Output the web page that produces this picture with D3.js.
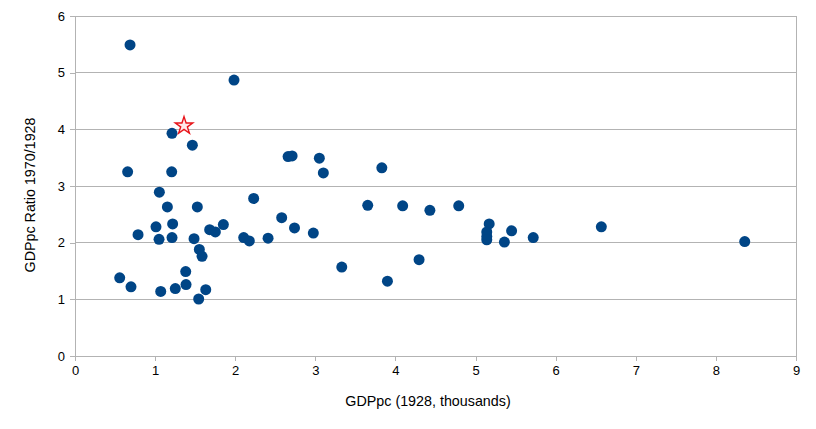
<!DOCTYPE html>
<html><head><meta charset="utf-8">
<script src="https://cdn.jsdelivr.net/npm/d3@7"></script>
<style>body{margin:0;background:#fff}svg{display:block;font-family:"Liberation Sans",Arial,sans-serif}</style>
</head><body>
<svg id="c" width="816" height="429"></svg>
<script>
const gdp1928 = [0.687,1.985,1.211,1.465,2.66,2.71,3.05,0.657,1.207,1.053,2.23,1.153,1.527,1.011,1.219,0.787,1.049,1.211,1.486,1.681,1.752,1.852,1.552,1.586,2.106,2.176,2.41,2.58,2.74,2.975,1.382,0.558,0.699,1.07,1.252,1.386,1.632,1.544,3.10,3.83,3.654,4.09,4.43,4.79,5.17,5.14,5.14,5.14,5.45,5.36,5.72,3.33,4.295,3.90,6.57,8.36];
const ratio = [5.49,4.87,3.93,3.72,3.52,3.53,3.49,3.25,3.25,2.89,2.78,2.63,2.63,2.28,2.33,2.14,2.06,2.09,2.07,2.23,2.19,2.32,1.88,1.76,2.09,2.03,2.08,2.44,2.26,2.17,1.49,1.38,1.22,1.14,1.19,1.26,1.17,1.006,3.23,3.32,2.66,2.65,2.57,2.65,2.33,2.19,2.11,2.05,2.21,2.01,2.09,1.57,1.70,1.32,2.28,2.02];
const highlight = {x:1.361, y:4.08};
const xTicks = [0,1,2,3,4,5,6,7,8,9];
const yTicks = [0,1,2,3,4,5,6];
const xTitle = "GDPpc (1928, thousands)";
const yTitle = "GDPpc Ratio 1970/1928";

const svg = d3.select("#c");
const L=75,R=796,T=16,B=356;
const x = d3.scaleLinear().domain([0,9]).range([L,R]);
const y = d3.scaleLinear().domain([0,6]).range([B,T]);

// grid
svg.append("g").selectAll("line").data(yTicks).join("line")
  .attr("x1",L).attr("x2",R).attr("y1",d=>y(d)).attr("y2",d=>y(d))
  .attr("stroke","#b3b3b3").attr("stroke-width",1).attr("shape-rendering","crispEdges");
svg.append("line").attr("x1",R).attr("x2",R).attr("y1",T).attr("y2",B)
  .attr("stroke","#b3b3b3").attr("shape-rendering","crispEdges");

const xa = svg.append("g").attr("transform",`translate(0,${B})`)
  .call(d3.axisBottom(x).tickValues(xTicks).tickSize(5).tickPadding(5).tickFormat(d3.format("d")));
const ya = svg.append("g").attr("transform",`translate(${L},0)`)
  .call(d3.axisLeft(y).tickValues(yTicks).tickSize(5).tickPadding(5).tickFormat(d3.format("d")));
[xa,ya].forEach(a=>{
  a.select(".domain").attr("stroke","#b3b3b3").attr("shape-rendering","crispEdges");
  a.selectAll(".tick line").attr("stroke","#b3b3b3").attr("shape-rendering","crispEdges");
  a.selectAll("text").attr("font-size",13).attr("fill","#000").attr("font-family","Liberation Sans, Arial, sans-serif");
});
xa.selectAll(".domain").attr("d",`M${L},0H${R}`);
ya.selectAll(".domain").attr("d",`M0,${T}V${B}`);

// points
svg.append("g").selectAll("circle").data(gdp1928.map((v,i)=>[v,ratio[i]])).join("circle")
  .attr("cx",d=>x(d[0])).attr("cy",d=>y(d[1])).attr("r",5.5).attr("fill","#004586");

// star
const star = d3.symbol().type(d3.symbolStar).size(95);
svg.append("path").attr("d",star())
  .attr("transform",`translate(${x(highlight.x)},${y(highlight.y)+1})`)
  .attr("fill","#ffe8e8").attr("stroke","#e8141a").attr("stroke-width",1.4);

svg.append("text").attr("x",428).attr("y",406).attr("text-anchor","middle")
  .attr("font-size",14.3).text(xTitle);
svg.append("text").attr("transform",`translate(35,195) rotate(-90)`).attr("text-anchor","middle")
  .attr("font-size",14.3).text(yTitle);
</script>
</body></html>
